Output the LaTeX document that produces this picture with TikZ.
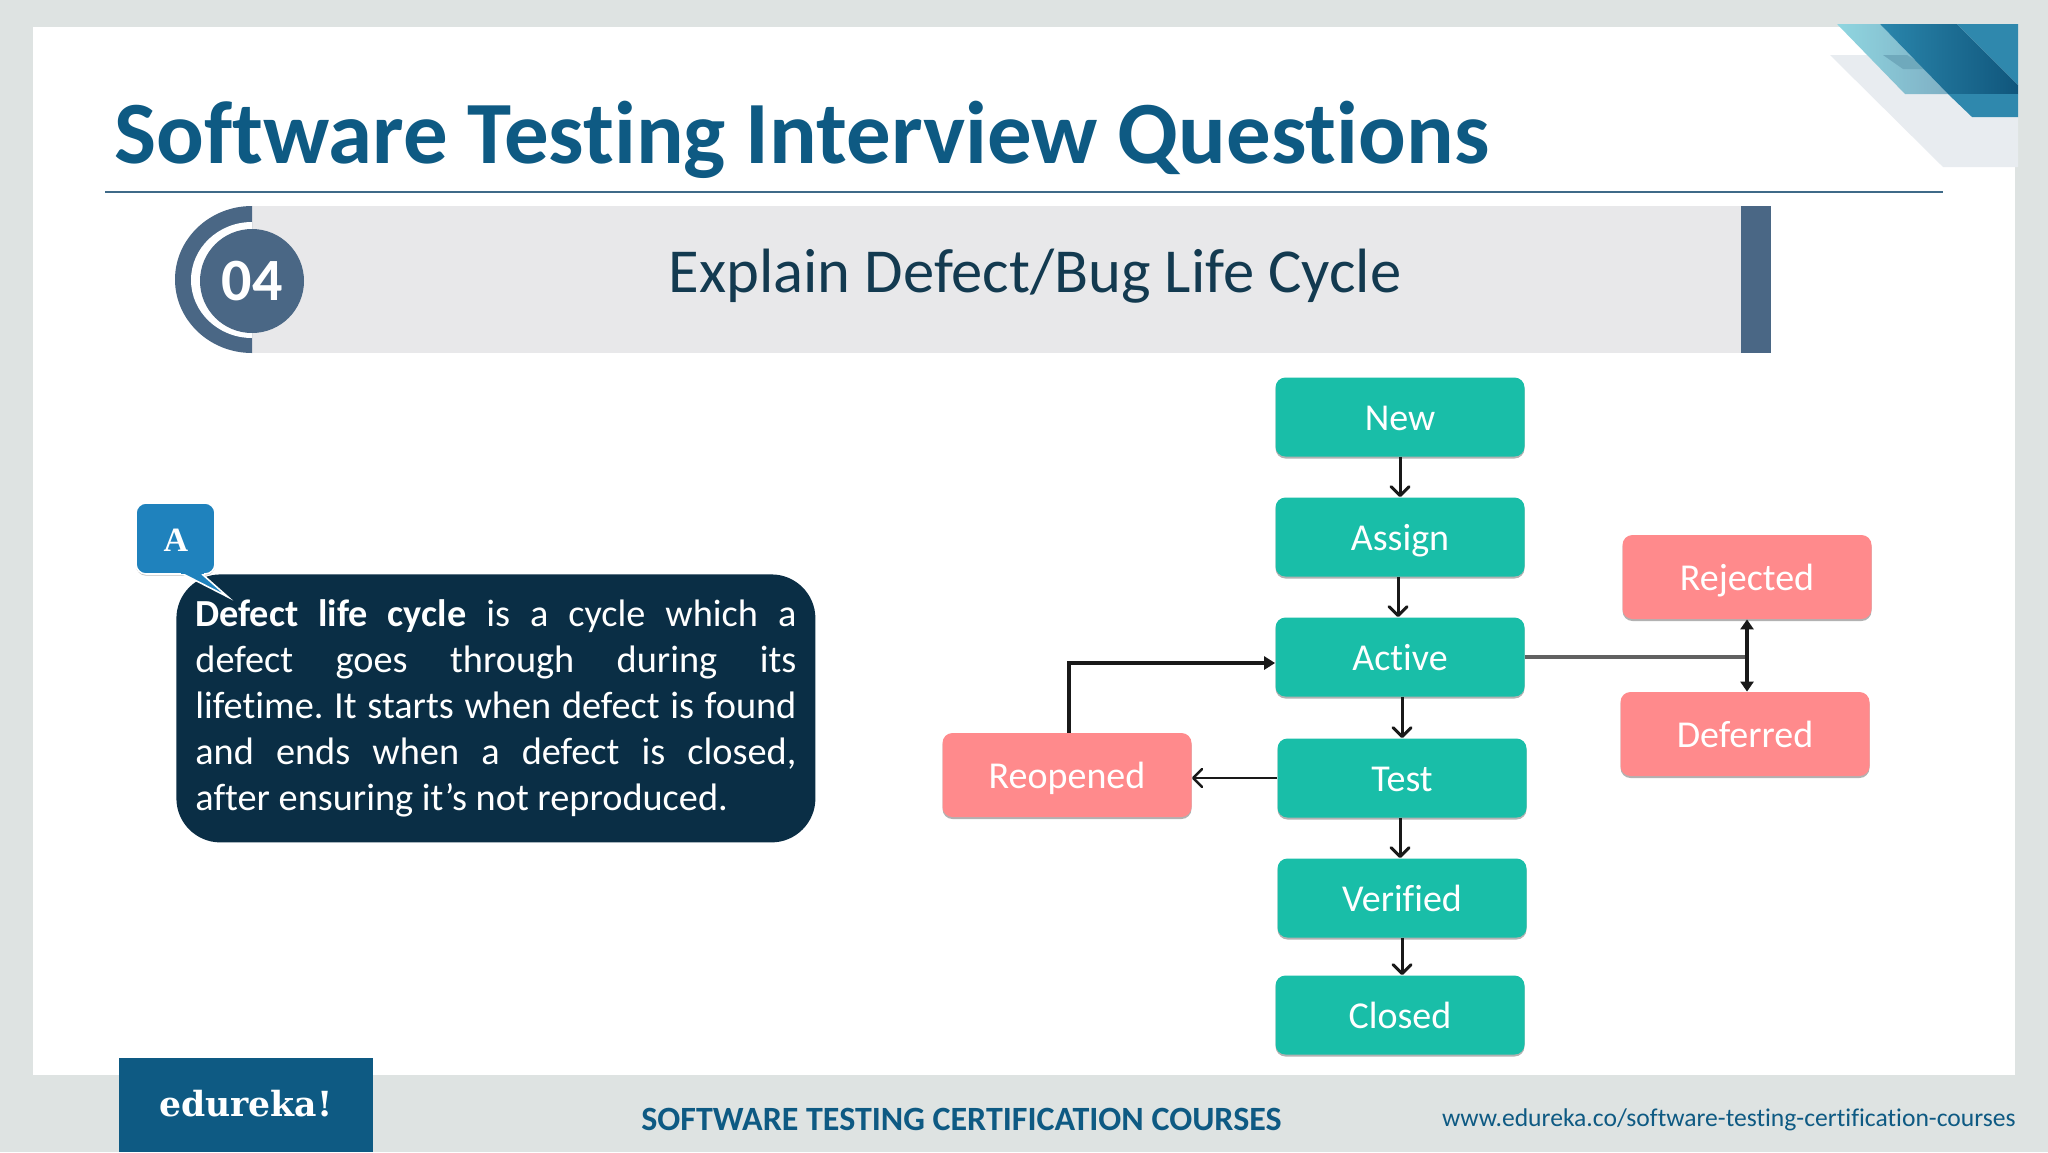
\documentclass[tikz,border=0pt]{standalone}
\usepackage{fontspec}
\setmainfont[Ligatures=NoCommon]{Carlito}
\newfontfamily\slabfont{DejaVu Serif}
\newfontfamily\capfont{Liberation Serif}
\usetikzlibrary{shadows,arrows.meta}
\definecolor{pagegray}{HTML}{DEE3E2}
\definecolor{titleblue}{HTML}{0E5A83}
\definecolor{ruleblue}{HTML}{3F6A88}
\definecolor{slateblue}{HTML}{4A6785}
\definecolor{bargray}{HTML}{E8E8EA}
\definecolor{inknavy}{HTML}{133A50}
\definecolor{answernavy}{HTML}{0A2E45}
\definecolor{calloutblue}{HTML}{1F82BD}
\definecolor{tealbox}{HTML}{19BEA8}
\definecolor{pinkbox}{HTML}{FF8A8C}
\definecolor{cornergray}{HTML}{E8ECF0}
\definecolor{cornercyan}{HTML}{8FD6E0}
\definecolor{cornermist}{HTML}{7FAFC4}
\definecolor{cornermid}{HTML}{6FA9BC}
\definecolor{cornerblue}{HTML}{2A86AC}
\definecolor{cornerdeep}{HTML}{10567C}
\definecolor{cornerlight}{HTML}{2F88AD}
\tikzset{
  softshadow/.style={drop shadow={shadow xshift=0pt,shadow yshift=-1pt,opacity=.3,fill=black}},
  flowbox/.style={rectangle,rounded corners=5pt,minimum width=124.5pt,text=white,inner sep=0pt,text height=13pt,text depth=0pt,font=\fontsize{19}{22}\selectfont,softshadow},
  tealnode/.style={flowbox,fill=tealbox,minimum height=39.5pt},
  pinknode/.style={flowbox,fill=pinkbox,minimum height=42pt},
  plaintext/.style={inner sep=0pt,anchor=base west},
  thinarrow/.style={-{Straight Barb[length=4.5pt,width=9pt,round]},line width=1.5pt,black!90},
  thickarrow/.style={-{Triangle[length=5.5pt,width=6.5pt]},line width=1.8pt,black!90},
}
\begin{document}
\begin{tikzpicture}[x=0.5pt,y=-0.5pt]
    \fill[pagegray] (0,0) rectangle (2048,1152);
    \useasboundingbox (0,0) rectangle (2048,1152);
    \fill[white] (33,27) rectangle (2015,1075);

    % corner
    \fill[cornergray] (1830,55) -- (1943,167) -- (2018,167) -- (2018,55) -- cycle;
    \shade[left color=cornercyan,right color=cornermist] (1837,24) -- (1905,94) -- (1948,94) -- (1880,24) -- cycle;
    \fill[cornermid] (1883,55) -- (1903,69) -- (1930,69) -- (1907,55) -- cycle;
    \shade[left color=cornerblue,right color=cornerdeep] (1880,24) -- (1957,24) -- (2018,85) -- (2018,94) -- (1948,94) -- cycle;
    \fill[cornerlight] (1957,24) -- (2018,24) -- (2018,85) -- cycle;
    \fill[cornerlight] (1948,94) -- (1972,117) -- (2018,117) -- (2018,94) -- cycle;

    \node[plaintext,text=titleblue,font=\fontsize{44.45}{50}\selectfont\bfseries] (title) at (114,163) {Software Testing Interview Questions};
    \draw[ruleblue,line width=1pt] (105,192) -- (1943,192);

    % banner
    \fill[bargray] (252,206) rectangle (1741,353);
    \fill[slateblue] (1741,206) rectangle (1771,353);
    \fill[slateblue] (252,206) arc[start angle=90,end angle=270,x radius=38.5pt,y radius=36.75pt] -- cycle;
    \fill[white] (252,222) arc[start angle=90,end angle=270,x radius=30.5pt,y radius=29pt] -- cycle;
    \node[circle,fill=slateblue,minimum size=52pt,inner sep=0pt,text=white,font=\fontsize{30}{34}\selectfont\bfseries] (num) at (252,281) {04};
    \node[inner sep=0pt,text=inknavy,font=\fontsize{31.3}{36}\selectfont] (question) at (1035,276) {Explain Defect/Bug Life Cycle};

    % answer
    \node[anchor=north west,fill=answernavy,rounded corners=22pt,text=white,text width=300.5pt,minimum height=134pt,inner xsep=9.5pt,inner ysep=9pt,align=justify,font=\fontsize{19.15}{23}\selectfont\frenchspacing] (answer) at (176,574)
      {\textbf{Defect life cycle} is a cycle which a\linebreak defect goes through during its\linebreak lifetime. It starts when defect is found\linebreak and ends when a defect is closed,\linebreak after ensuring it’s not reproduced.};
    \draw[white,fill=calloutblue,line width=.8pt,rounded corners=5pt,drop shadow={shadow xshift=0pt,shadow yshift=-.8pt,opacity=.25,fill=black}] (136,503) rectangle (215,574);
    \draw[white,fill=calloutblue,line width=.8pt] (183,574) -- (228,597) -- (202,574);
    \fill[calloutblue] (181,570) rectangle (204,574);
    \node[inner sep=0pt,text=white,font=\fontsize{17}{20}\selectfont\capfont\bfseries] (cap) at (176,540) {A};

    % flow
    \node[tealnode] (new) at (1400,417) {New};
    \node[tealnode] (assign) at (1400,537) {Assign};
    \node[tealnode] (active) at (1400,657) {Active};
    \node[tealnode] (test) at (1402,778) {Test};
    \node[tealnode] (verified) at (1402,898) {Verified};
    \node[tealnode] (closed) at (1400,1015) {Closed};
    \node[pinknode] (reopened) at (1067,775) {Reopened};
    \node[pinknode] (rejected) at (1747,577) {Rejected};
    \node[pinknode] (deferred) at (1745,734) {Deferred};

    \draw[thinarrow] (new) -- (assign);
    \draw[thinarrow] ([xshift=-1pt]assign.south) -- ([xshift=-1pt]active.north);
    \draw[thinarrow] (test.north |- active.south) -- (test.north);
    \draw[thinarrow] (test.south -| closed.south) -- (closed.north |- verified.north);
    \draw[thinarrow] (verified) -- (verified |- closed.north);
    \draw[thinarrow,line width=1.2pt] (test.west) -- (reopened.east |- test.west);
    \draw[thickarrow] ([xshift=1pt]reopened.north) |- ([yshift=-3pt]active.west);
    \draw[line width=2pt,black!62] (active.east) -- (rejected.south |- active.east);
    \draw[{Triangle[length=5pt,width=6.5pt]}-{Triangle[length=5pt,width=6.5pt]},line width=2pt,black!90] (rejected.south) -- (rejected.south |- deferred.north);

    % footer
    \fill[titleblue] (119,1058) rectangle (373,1152);
    \node[inner sep=0pt,text=white,font=\fontsize{17.3}{20}\selectfont\slabfont\bfseries] (logo) at (246,1104) {edureka!};
    \node[plaintext,text=titleblue,font=\fontsize{17}{20}\selectfont\bfseries] (course) at (641,1130) {SOFTWARE TESTING CERTIFICATION COURSES};
    \node[inner sep=0pt,anchor=base east,text=titleblue,font=\fontsize{12.8}{15}\selectfont] (url) at (2016,1126) {www.edureka.co/software-testing-certification-courses};
\end{tikzpicture}
\end{document}
